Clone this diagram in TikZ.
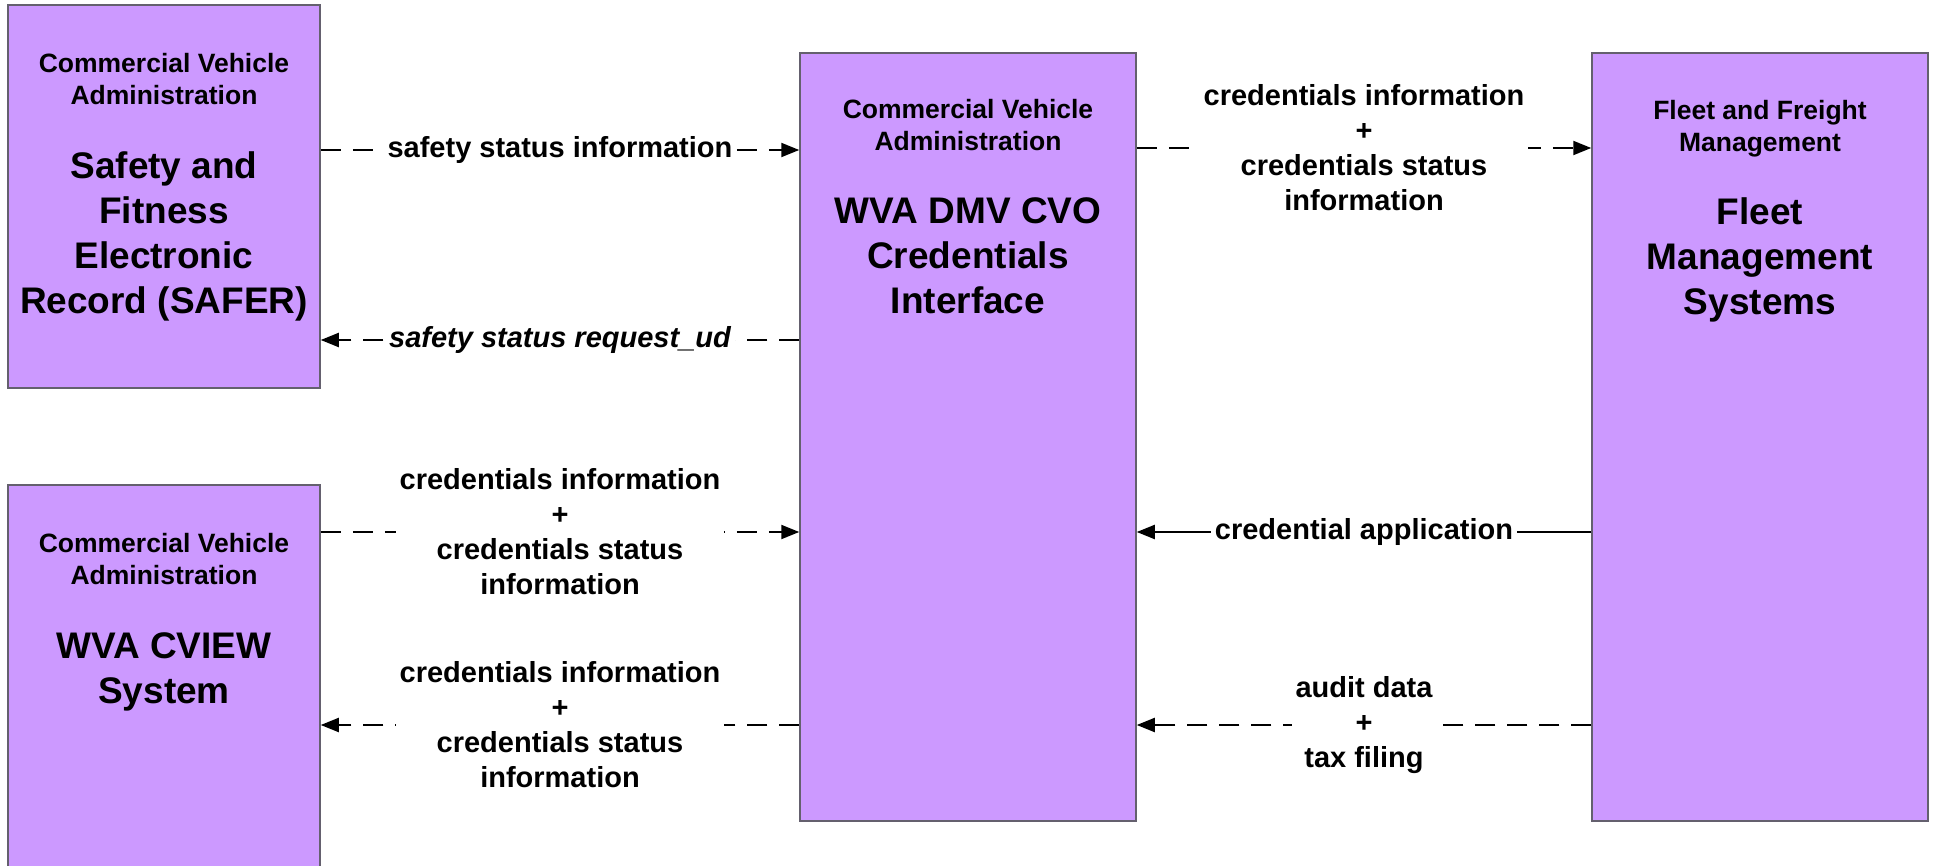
\documentclass[tikz,border=0pt]{standalone}
\usepackage{fontspec}
\setmainfont{Liberation Sans}
\usetikzlibrary{arrows.meta}
\definecolor{boxfill}{RGB}{204,153,255}
\definecolor{boxline}{RGB}{100,96,110}
\newcommand{\hdrfont}{\fontsize{26.5}{32}\selectfont\bfseries\spaceskip=0.278em\xspaceskip=0.278em\relax}
\newcommand{\ttlfont}{\fontsize{37}{45}\selectfont\bfseries\spaceskip=0.278em\xspaceskip=0.278em\relax}
\begin{document}
\begin{tikzpicture}[x=1pt,y=-1pt,
  sysbox/.style={draw=boxline, fill=boxfill, line width=1.5pt, rectangle, inner sep=0pt},
  systext/.style={anchor=north, text width=320pt, align=flush center, inner sep=0pt},
  flowlbl/.style={fill=white, inner sep=4pt, align=center, font=\fontsize{29}{35}\selectfont\bfseries},
  flow/.style={line width=2pt, -{Triangle[length=18pt,width=14pt]}},
  dflow/.style={flow, dash pattern=on 20pt off 12pt},
]
\fill[white] (0,0) rectangle (1937,866);
\useasboundingbox (0,0) rectangle (1937,866);
\clip (0,0) rectangle (1937,866);

% boxes
\node[sysbox, minimum width=312, minimum height=383] (safer) at (164,196.5) {};
\node[sysbox, minimum width=312, minimum height=395] (cview) at (164,682.5) {};
\node[sysbox, minimum width=336, minimum height=768] (dmv) at (968,437) {};
\node[sysbox, minimum width=336, minimum height=768] (fleet) at (1760,437) {};

% box texts
\node[systext] (safer-t) at (164,53) {\hdrfont Commercial Vehicle\par Administration\par\vspace{29pt}\ttlfont Safety and\par Fitness\par Electronic\par Record (SAFER)\par};
\node[systext] (cview-t) at (164,533) {\hdrfont Commercial Vehicle\par Administration\par\vspace{29pt}\ttlfont WVA CVIEW\par System\par};
\node[systext] (dmv-t) at (968,99) {\hdrfont Commercial Vehicle\par Administration\par\vspace{28pt}\ttlfont WVA DMV CVO\par Credentials\par Interface\par};
\node[systext] (fleet-t) at (1760,100) {\hdrfont Fleet and Freight\par Management\par\vspace{28pt}\ttlfont Fleet\par Management\par Systems\par};

% flows
\draw[dflow] (safer.east |- 0,150) -- node[flowlbl] (l1) {safety status information} (dmv.west |- 0,150);
\draw[dflow] (dmv.west |- 0,340) -- node[flowlbl, font=\fontsize{29}{35}\selectfont\bfseries\itshape] (l2) {safety status request\_ud} (safer.east |- 0,340);
\draw[dflow] (dmv.east |- 0,148) -- node[flowlbl] (l3) {credentials information\\+\\credentials status\\information} (fleet.west |- 0,148);
\draw[dflow] (cview.east |- 0,532) -- node[flowlbl] (l4) {credentials information\\+\\credentials status\\information} (dmv.west |- 0,532);
\draw[dflow] (dmv.west |- 0,725) -- node[flowlbl] (l5) {credentials information\\+\\credentials status\\information} (cview.east |- 0,725);
\draw[flow] (fleet.west |- 0,532) -- node[flowlbl] (l6) {credential application} (dmv.east |- 0,532);
\draw[dflow] (fleet.west |- 0,725) -- node[flowlbl] (l7) {audit data\\+\\tax filing} (dmv.east |- 0,725);
\end{tikzpicture}
\end{document}
